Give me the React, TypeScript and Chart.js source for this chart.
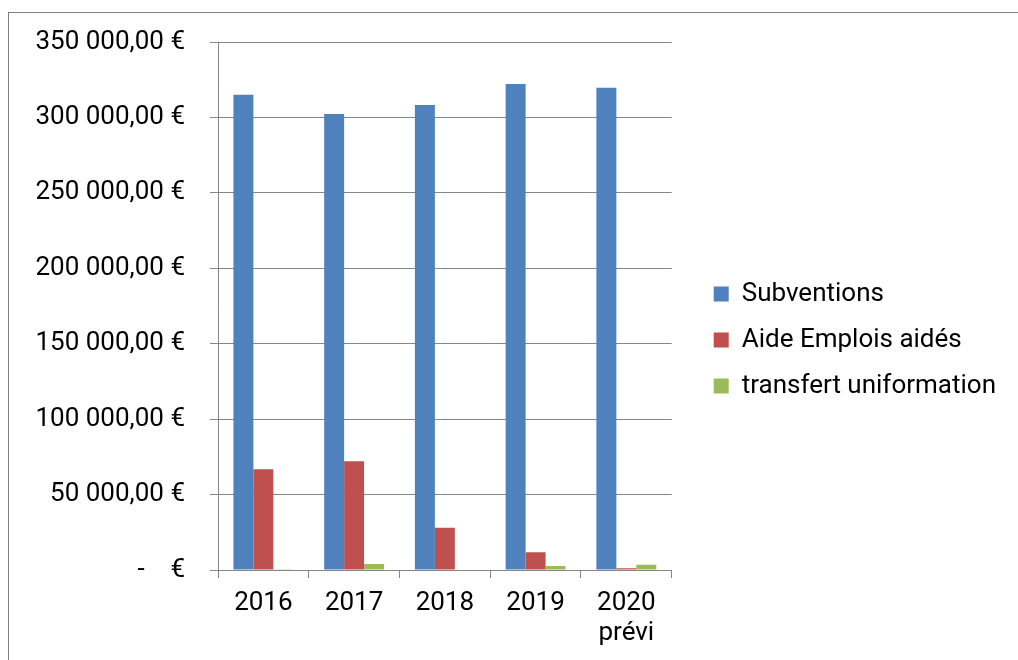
import React, { useEffect, useRef } from "react";
import { Chart, registerables } from "chart.js";

Chart.register(...registerables);

const categories: (string | string[])[] = ["2016", "2017", "2018", "2019", ["2020", "prévi"]];
const subventions = [315000, 302300, 308300, 322100, 319600];
const aideEmplois = [66800, 72100, 28000, 11700, 1100];
const transfertUniformation = [500, 4000, 0, 2600, 3500];
const seriesNames = ["Subventions", "Aide Emplois aidés", "transfert uniformation"];
const seriesColors = ["#4F81BD", "#C0504D", "#9BBB59"];
const yTicks = { min: 0, max: 350000, step: 50000 };

function formatEuro(v: number): string {
  if (v === 0) return "-    €";
  const s = Math.round(v).toString().replace(/\B(?=(\d{3})+(?!\d))/g, " ");
  return s + ",00 €";
}

export default function App() {
  const ref = useRef<HTMLCanvasElement | null>(null);
  useEffect(() => {
    if (!ref.current) return;
    const grid = "#868686";
    const font = { family: "Roboto", size: 26 };
    const chart = new Chart(ref.current, {
      type: "bar",
      data: {
        labels: categories,
        datasets: [subventions, aideEmplois, transfertUniformation].map((d, i) => ({
          label: seriesNames[i],
          data: d,
          backgroundColor: seriesColors[i],
          borderWidth: 0,
          categoryPercentage: 0.66,
          barPercentage: 1,
        })),
      },
      options: {
        animation: false,
        responsive: false,
        layout: { padding: { left: 34, top: 33, right: 12, bottom: 13 } },
        plugins: {
          tooltip: { enabled: false },
          legend: {
            position: "right",
            maxWidth: 340,
            labels: {
              font: { family: "Roboto", size: 26 },
              color: "#000",
              boxWidth: 15,
              boxHeight: 15,
              padding: 20,
            },
          },
        },
        scales: {
          x: {
            grid: { display: true, drawOnChartArea: false, drawTicks: true, tickLength: 8, color: grid, offset: true },
            border: { display: true, color: grid },
            ticks: { font: { ...font, lineHeight: 1.154 }, color: "#000", padding: 10, maxRotation: 0, autoSkip: false },
            afterFit: (s: any) => { s.height = 77; },
          },
          y: {
            min: yTicks.min,
            max: yTicks.max,
            grid: { color: grid, tickLength: 8, drawTicks: true },
            border: { display: true, color: grid },
            ticks: {
              stepSize: yTicks.step,
              font,
              color: "#000",
              padding: 25,
              callback: (v: any) => formatEuro(Number(v)),
            },
            afterFit: (s: any) => { s.width = 184; },
          },
          gapRight: {
            type: "linear",
            axis: "y",
            position: "right",
            display: true,
            grid: { display: false, drawTicks: false },
            border: { display: false },
            ticks: { display: false },
            afterFit: (s: any) => { s.width = 22; },
          },
          gapTop: {
            type: "linear",
            axis: "x",
            position: "top",
            display: true,
            grid: { display: false, drawTicks: false },
            border: { display: false },
            ticks: { display: false },
            afterFit: (s: any) => { s.height = 9; },
          },
        },
      },
    } as any);
    return () => chart.destroy();
  }, []);
  return (
    <div style={{ position: "fixed", left: 0, top: 0, width: 1018, height: 660, overflow: "hidden", background: "#fff" }}>
      <div style={{ position: "absolute", left: 8, top: 12, width: 1100, height: 800, borderLeft: "1px solid #7f7f7f", borderTop: "1px solid #7f7f7f" }} />
      <canvas ref={ref} width={1018} height={660} style={{ position: "absolute", left: 0, top: 0 }} />
    </div>
  );
}
